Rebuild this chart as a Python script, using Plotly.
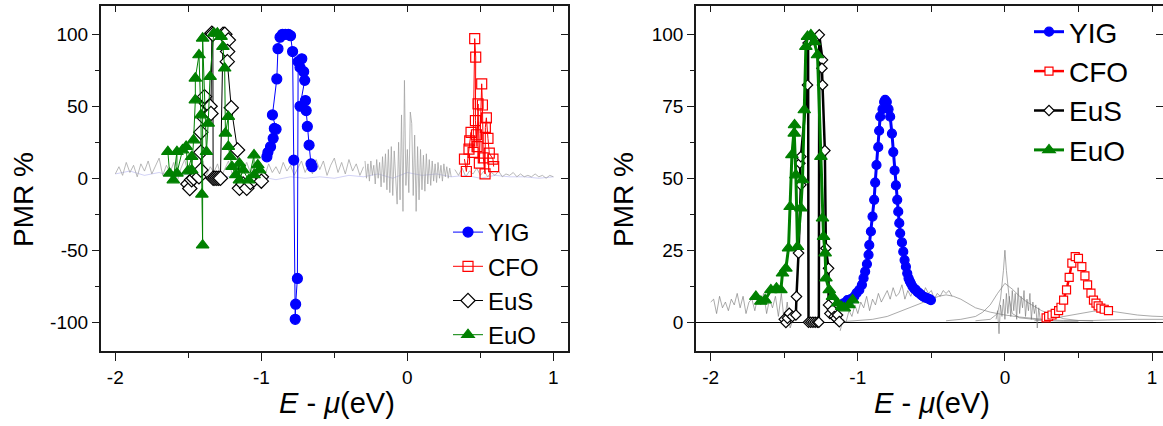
import plotly.graph_objects as go

# ---------------- LEFT PANEL DATA ----------------
yig_l_x = [-0.962, -0.955, -0.937, -0.919, -0.911, -0.899, -0.924, -0.894, -0.886, -0.872, -0.855, -0.835, -0.815, -0.800,
           -0.786, -0.778, -0.768, -0.765, -0.753, -0.748, -0.735, -0.723, -0.710, -0.703, -0.735, -0.698, -0.693, -0.685,
           -0.673, -0.660, -0.652]
yig_l_y = [14.9, 18.0, 21.9, 27.7, 34.6, 34.0, 44.0, 69.0, 90.0, 98.0, 100.0, 100.0, 100.0, 99.0,
           88.0, 12.6, -98.0, -87.5, -69.6, 81.0, 77.0, 83.0, 74.0, 68.0, 50.0, 54.0, 47.0, 36.0,
           23.0, 10.0, 8.0]

cfo_l_x = [0.391, 0.404, 0.422, 0.427, 0.436, 0.450, 0.461, 0.468, 0.466, 0.473, 0.477, 0.484, 0.493, 0.509, 0.514,
           0.520, 0.532, 0.534, 0.541, 0.552, 0.561, 0.586, 0.591]
cfo_l_y = [13.3, 4.7, 20.2, 26.0, 31.9, 18.0, 97.0, 84.2, 40.0, 30.2, 22.0, 51.6, 10.5, 65.6, 50.9,
           14.2, 3.0, 35.3, 42.0, 27.7, 17.4, 13.3, 8.1]

eus_l_x = [-1.503, -1.490, -1.477, -1.464, -1.440, -1.427, -1.414, -1.414, -1.414, -1.389, -1.376, -1.389, -1.351, -1.345,
           -1.339, -1.332, -1.330, -1.318, -1.305, -1.292, -1.280, -1.262, -1.250, -1.226, -1.231, -1.233, -1.206, -1.163,
           -1.150, -1.125, -1.100, -1.075, -1.050, -1.000, -1.000]
eus_l_y = [-4.0, -7.1, -1.0, 0.0, 2.0, 1.0, 5.7, 18.0, 32.0, 41.6, 52.0, 56.7, 50.0, 45.0,
           100.7, 100.0, 0.0, 0.0, 0.0, 0.0, 0.0, 100.0, 100.0, 96.0, 88.0, 81.0, 49.0, 19.6,
           -7.0, -4.0, -7.0, -3.0, -1.0, 1.0, -2.0]

euo_l_x = [-1.640, -1.628, -1.603, -1.578, -1.578, -1.540, -1.515, -1.503, -1.477, -1.477, -1.464, -1.452, -1.452,
           -1.427, -1.414, -1.407, -1.402, -1.402, -1.376, -1.364, -1.351, -1.326, -1.301, -1.276, -1.263, -1.251,
           -1.246, -1.226, -1.226, -1.213, -1.201, -1.175, -1.150, -1.150, -1.125, -1.087, -1.050, -1.050, -1.024, -1.012]
euo_l_y = [18.4, 3.4, -1.3, 18.4, 3.4, 19.6, 22.0, 5.0, 15.0, 5.7, 26.5, 54.3, 69.4,
           85.6, 43.9, -11.2, -46.5, 97.2, 18.4, 38.1, 70.6, 100.7, 100.7, 98.4, 91.4, 76.4,
           31.2, 42.8, 22.0, 15.0, 8.0, 2.3, 10.3, -1.3, 5.7, -1.3, 16.1, 2.3, 9.2, 5.7]

# background (gray) spectra, left panel
bg_l1_x = [-2.000, -1.975, -1.950, -1.925, -1.900, -1.875, -1.850, -1.825, -1.800, -1.775, -1.750, -1.725, -1.700,
           -1.675, -1.650, -1.625, -1.600, -1.575, -1.550, -1.525, -1.500, -1.475, -1.450, -1.425, -1.400, -1.375,
           -1.350, -1.325, -1.300, -1.275, -1.250, -1.225, -1.200, -1.175, -1.150, -1.125, -1.100, -1.075, -1.050,
           -1.025, -1.000, -0.975, -0.950, -0.925, -0.900, -0.875, -0.850, -0.825, -0.800, -0.775, -0.750, -0.725,
           -0.700, -0.675, -0.650, -0.625, -0.600, -0.575, -0.550, -0.525, -0.500, -0.475, -0.450, -0.425, -0.400,
           -0.375, -0.350, -0.325, -0.300]
bg_l1_y = [3, 8, 2, 11, 4, 9, 1, 10, 5, 12, 3, 8, 14, 2, 9, 4, 11, -2, 7, 13, 3, 9, -4, 6, 12, 2, 8, 4, 10, 1,
           7, 12, 3, 8, 0, 6, 11, 4, 9, -5, 7, 2, 10, 4, 8, 3, 11, 5, 9, 2, 7, 12, 4, 10, 3, 13, 6, 12, 2, 9,
           14, 4, 11, 3, 13, 5, 10, 2, 8]
bg_l2_x = [-0.29, -0.28, -0.27, -0.26, -0.25, -0.24, -0.23, -0.22, -0.21, -0.20, -0.19, -0.18, -0.17, -0.16, -0.15,
           -0.14, -0.13, -0.12, -0.11, -0.10, -0.09, -0.08, -0.07, -0.06, -0.05, -0.04, -0.03, -0.02, -0.01, 0.00,
           0.01, 0.02, 0.03, 0.04, 0.05, 0.06, 0.07, 0.08, 0.09, 0.10, 0.11, 0.12, 0.13, 0.14, 0.15, 0.16, 0.17,
           0.18, 0.19, 0.20, 0.21, 0.22, 0.23, 0.24, 0.25, 0.26, 0.27, 0.28, 0.29, 0.30]
bg_l2_y = [12, 0, 10, -2, 12, 2, 9, -4, 13, 0, 11, -6, 15, -3, 17, -8, 20, -10, 22, -12, 19, -5, -18, 25, -15,
           44, -23, 68, -5, 20, -10, 46, 38, -12, 30, -23, 22, -15, 20, -8, 16, -9, 17, -4, 13, -5, 12, -2, 10,
           -3, 11, 0, 9, -2, 10, 1, 8, 0, 7, 1]
bg_l3_x = [0.325, 0.350, 0.375, 0.400, 0.425, 0.450, 0.475, 0.500, 0.525, 0.550, 0.575, 0.600, 0.625, 0.650,
           0.675, 0.700, 0.725, 0.750, 0.775, 0.800, 0.825, 0.850, 0.875, 0.900, 0.925, 0.950, 0.975, 1.000]
bg_l3_y = [6, 2, 7, 1, 5, 3, 7, 2, 5, 1, 4, 2, 5, 1, 3, 2, 4, 1, 3, 1, 2, 1, 3, 1, 2, 0, 2, 1]
bg_l4_x = [-2.0, -1.9, -1.8, -1.7, -1.6, -1.5, -1.4, -1.3, -1.2, -1.1, -1.0, -0.9, -0.8, -0.7, -0.6, -0.5,
           -0.4, -0.3, -0.2, -0.1, 0.0, 0.1, 0.2, 0.3, 0.4, 0.5, 0.6, 0.7, 0.8, 0.9, 1.0]
bg_l4_y = [3, 5, 2, 4, 1, 3, 0, 2, 1, 0, 1, -1, 1, 0, 1, 0, 2, 1, 3, 0, 4, 2, 3, 1, 2, 0, 2, 1, 1, 0, 1]

# ---------------- RIGHT PANEL DATA ----------------
yig_r_x = [-1.100, -1.085, -1.070, -1.047, -1.024, -1.009, -0.990, -0.972, -0.961, -0.950, -0.938, -0.927, -0.922,
           -0.911, -0.900, -0.889, -0.882, -0.873, -0.861, -0.855, -0.848, -0.832, -0.821, -0.814, -0.803, -0.791,
           -0.780, -0.768, -0.759, -0.750, -0.741, -0.732, -0.725, -0.718, -0.712, -0.700, -0.691, -0.682, -0.673,
           -0.664, -0.655, -0.647, -0.639, -0.628, -0.617, -0.605, -0.594, -0.583, -0.571, -0.560, -0.548, -0.537,
           -0.526, -0.514, -0.503]
yig_r_y = [6.5, 6.8, 7.7, 8.0, 8.9, 10.1, 11.2, 13.0, 15.3, 17.6, 20.2, 23.4, 26.8,
           31.5, 36.7, 42.5, 48.5, 54.6, 60.8, 66.5, 71.4, 74.0, 76.5, 77.2, 76.5, 74.0,
           71.4, 65.5, 59.1, 52.7, 47.5, 42.5, 38.4, 34.4, 30.9, 27.7, 24.5, 21.6, 19.3,
           17.0, 15.3, 14.3, 13.5, 12.4, 11.7, 11.2, 10.5, 10.1, 9.6, 9.1, 8.7, 8.5,
           8.3, 8.0, 7.7]

cfo_r_x = [0.280, 0.297, 0.320, 0.342, 0.365, 0.381, 0.399, 0.419, 0.437, 0.455, 0.478, 0.500, 0.523, 0.544,
           0.562, 0.585, 0.602, 0.619, 0.634, 0.652, 0.675, 0.704]
cfo_r_y = [1.5, 2.0, 2.5, 3.1, 4.0, 5.2, 7.7, 11.2, 15.6, 20.5, 22.8, 22.2, 19.3, 16.1,
           13.0, 10.1, 7.7, 6.6, 5.7, 4.9, 4.5, 4.0]

eus_r_x = [-1.500, -1.489, -1.478, -1.466, -1.444, -1.421, -1.417, -1.403, -1.387, -1.394, -1.387, -1.342, -1.338,
           -1.335, -1.320, -1.305, -1.290, -1.275, -1.265, -1.262, -1.240, -1.244, -1.240, -1.224, -1.217, -1.199,
           -1.199, -1.190, -1.172, -1.160, -1.149, -1.138, -1.126]
eus_r_y = [1.0, -0.1, 1.4, 3.1, 2.0, 2.5, 8.9, 24.0, 47.7, 55.2, 57.5, 82.4, 97.0,
           0.0, 0.0, 0.0, 0.0, 0.0, 0.0, 99.8, 91.1, 88.2, 82.4, 59.6, 25.7, 18.7,
           6.0, 3.0, 4.3, 2.0, 1.4, 2.5, 0.2]

euo_r_x = [-1.693, -1.659, -1.630, -1.591, -1.553, -1.523, -1.512, -1.489, -1.471, -1.460, -1.448, -1.430, -1.432,
           -1.421, -1.410, -1.387, -1.376, -1.364, -1.353, -1.342, -1.319, -1.296, -1.274, -1.251, -1.240, -1.233,
           -1.222, -1.217, -1.194, -1.172, -1.138, -1.110, -1.092, -1.060, -1.035]
euo_r_y = [8.9, 7.2, 7.7, 11.2, 11.8, 11.2, 17.0, 18.7, 25.7, 40.1, 58.1, 68.5, 65.6,
           51.1, 26.2, 39.6, 49.4, 73.7, 95.7, 99.2, 99.8, 97.4, 92.8, 57.5, 36.1, 29.7,
           24.0, 15.3, 11.2, 8.9, 6.6, 5.4, 4.9, 6.0, 7.7]

bg_r1_x = [-2.00, -1.98, -1.96, -1.94, -1.92, -1.90, -1.88, -1.86, -1.84, -1.82, -1.80, -1.78, -1.76, -1.74, -1.72,
           -1.70, -1.68, -1.66, -1.64, -1.62, -1.60, -1.58, -1.56, -1.54, -1.52, -1.50, -1.48, -1.46, -1.44]
bg_r1_y = [7, 8, 3, 9, 5, 7, 4, 8, 6, 10, 5, 9, 3, 7, 8, 4, 9, 6, 10, 3, 8, 5, 9, 2, 10, 0, 7, -2, 1]
bg_r2_x = [-1.12, -1.10, -1.08, -1.06, -1.04, -1.02, -1.00, -0.98, -0.96, -0.94, -0.92, -0.90, -0.88, -0.86, -0.84,
           -0.82, -0.80, -0.78, -0.76, -0.74, -0.72, -0.70, -0.68, -0.66, -0.64, -0.62, -0.60, -0.58, -0.56, -0.54,
           -0.52, -0.50, -0.48, -0.46, -0.44, -0.42, -0.40, -0.38, -0.36]
bg_r2_y = [-3, 1, 0, 4, 2, 6, 3, 7, 5, 9, 4, 8, 6, 10, 7, 9, 11, 8, 12, 9, 10, 13, 8, 11, 9, 12, 10, 11, 9, 12,
           10, 11, 8, 10, 9, 11, 10, 11, 9]
bg_r3_x = [-1.10, -1.00, -0.90, -0.80, -0.70, -0.60, -0.50, -0.45, -0.40, -0.35, -0.30, -0.25, -0.20, -0.10, 0.00,
           0.10, 0.20, 0.30, 0.40, 0.50, 0.60, 0.70, 0.80, 0.90, 1.00, 1.10]
bg_r3_y = [0.2, 0.5, 1, 2, 4, 6, 8, 9, 9.5, 9, 8, 6.5, 5, 3.5, 2.5, 1.8, 1.2, 0.8, 0.6, 0.5, 0.6, 0.8, 1, 1, 1, 1]
bg_r4_x = [-0.20, -0.10, -0.05, -0.03, -0.01, 0.00, 0.01, 0.03, 0.05, 0.10, 0.20, 0.30, 0.40, 0.50]
bg_r4_y = [0.5, 1, 3, 8, 18, 25, 18, 8, 3, 1.5, 1, 0.5, 0.3, 0.3]
bg_r5_x = [-0.40, -0.30, -0.20, -0.15, -0.10, -0.05, 0.00, 0.05, 0.10, 0.15, 0.20, 0.25, 0.30, 0.35, 0.40, 0.50, 0.60]
bg_r5_y = [0.5, 1, 2, 3.5, 6, 10, 13.5, 11.5, 9, 7, 5.5, 4, 3, 2, 1.2, 0.6, 0.4]
bg_r6_x = [-0.06, -0.05, -0.04, -0.03, -0.02, -0.01, 0.00, 0.01, 0.02, 0.03, 0.04, 0.05, 0.06, 0.07, 0.08, 0.09,
           0.10, 0.11, 0.12, 0.13, 0.14, 0.15, 0.16, 0.17, 0.18, 0.19, 0.20, 0.21, 0.22, 0.23, 0.24]
bg_r6_y = [1, 4, -4, 6, 2, 8, 1, 10, 3, 9, 2, 11, 4, 10, 1, 12, 3, 9, 5, 11, 2, 8, 4, 10, 1, 7, 3, 6, -2, 5, 1]
bg_r7_x = [0.20, 0.30, 0.40, 0.50, 0.60, 0.70, 0.80, 0.90, 1.00, 1.10]
bg_r7_y = [0.5, 1, 2, 3, 3.8, 4, 3.2, 2.5, 2.1, 1.9]

# ---------------- STYLE ----------------
FONT = "Arial, Liberation Sans, sans-serif"
BLUE, RED, BLACK, GREEN = "#0000FF", "#FF0000", "#000000", "#008000"
GRAY_L = "rgba(160,160,160,0.75)"
GRAY_R = "rgba(120,120,120,0.7)"

fig = go.Figure()

def bg(x, y, xa, ya, color, w=1.0):
    fig.add_trace(go.Scatter(x=x, y=y, xaxis=xa, yaxis=ya, mode="lines",
                             line=dict(color=color, width=w), showlegend=False, hoverinfo="skip"))

# left background
bg(bg_l4_x, bg_l4_y, "x", "y", "rgba(140,140,230,0.5)", 0.8)
bg(bg_l1_x, bg_l1_y, "x", "y", GRAY_L)
bg(bg_l2_x, bg_l2_y, "x", "y", GRAY_L)
bg(bg_l3_x, bg_l3_y, "x", "y", GRAY_L)

# right background
for bx, by in [(bg_r1_x, bg_r1_y), (bg_r2_x, bg_r2_y), (bg_r3_x, bg_r3_y), (bg_r4_x, bg_r4_y),
               (bg_r5_x, bg_r5_y), (bg_r6_x, bg_r6_y), (bg_r7_x, bg_r7_y)]:
    bg(bx, by, "x2", "y2", GRAY_R, 0.9)

def series(x, y, xa, ya, name, color, symbol, fill, size, lw, legend):
    fig.add_trace(go.Scatter(
        x=x, y=y, xaxis=xa, yaxis=ya, name=name, mode="lines+markers", legend=legend,
        line=dict(color=color, width=lw),
        marker=dict(symbol=symbol, size=size, color=fill, line=dict(color=color, width=1.2))))

series(yig_l_x, yig_l_y, "x", "y", "YIG", BLUE, "circle", BLUE, 10, 1, "legend")
series(cfo_l_x, cfo_l_y, "x", "y", "CFO", RED, "square-open", RED, 10, 1, "legend")
series(eus_l_x, eus_l_y, "x", "y", "EuS", BLACK, "diamond", "white", 11, 1, "legend")
series(euo_l_x, euo_l_y, "x", "y", "EuO", GREEN, "triangle-up", GREEN, 11, 1, "legend")

series(yig_r_x, yig_r_y, "x2", "y2", "YIG", BLUE, "circle", BLUE, 9, 3, "legend2")
series(cfo_r_x, cfo_r_y, "x2", "y2", "CFO", RED, "square", "white", 8, 2.5, "legend2")
series(eus_r_x, eus_r_y, "x2", "y2", "EuS", BLACK, "diamond", "white", 8, 2.5, "legend2")
series(euo_r_x, euo_r_y, "x2", "y2", "EuO", GREEN, "triangle-up", GREEN, 11, 3, "legend2")

# empty traces so overlay axes are drawn
for xa, ya in [("x3", "y"), ("x", "y3"), ("x4", "y2"), ("x2", "y4")]:
    fig.add_trace(go.Scatter(x=[], y=[], xaxis=xa, yaxis=ya, showlegend=False, hoverinfo="skip"))

W, H = 1163, 426
L_DOM = [100.7 / W, 568.0 / W]
R_DOM = [696.0 / W, 1.0]
Y_DOM = [1 - 351.0 / H, 1 - 5.5 / H]
XR_L = [-2.1, 1.1]
XR_R = [-2.1, -2.1 + (W - 696.0) / 147.1]

tickfont = dict(family=FONT, size=19, color="black")
LINEC = "#1a1a1a"
xticks = dict(tickmode="array", tickvals=[-2, -1, 0, 1], ticktext=["-2", "-1", "0", "1"])

common_x = dict(showgrid=False, zeroline=False, showline=True, linecolor=LINEC, linewidth=1.6,
                ticks="outside", ticklen=8, tickwidth=1.3, tickcolor=LINEC, tickfont=tickfont,
                minor=dict(ticks="outside", ticklen=5, tickwidth=1.3, tickcolor=LINEC, dtick=0.5, tick0=0, showgrid=False),
                **xticks)

fig.update_layout(
    width=W, height=H, margin=dict(l=0, r=0, t=0, b=0),
    paper_bgcolor="white", plot_bgcolor="rgba(0,0,0,0)",
    font=dict(family=FONT, color="black"),
    xaxis=dict(domain=L_DOM, range=XR_L, anchor="y", **common_x),
    yaxis=dict(domain=Y_DOM, range=[-120, 120], anchor="x", showgrid=False, zeroline=False, showline=True,
               linecolor=LINEC, linewidth=1.6, ticks="outside", ticklen=7, tickwidth=1.3, tickcolor=LINEC,
               tickfont=tickfont, tickmode="array", tickvals=[-100, -50, 0, 50, 100],
               ticktext=["-100", "-50", "0", "50", "100"],
               minor=dict(ticks="outside", ticklen=4, tickwidth=1.3, tickcolor=LINEC, dtick=25, tick0=0, showgrid=False)),
    xaxis3=dict(overlaying="x", side="top", anchor="y", range=XR_L, showgrid=False, zeroline=False,
                showline=True, linecolor=LINEC, linewidth=1.6, ticks="inside", ticklen=7, tickwidth=1.3,
                tickcolor=LINEC, showticklabels=False, tickmode="linear", tick0=0, dtick=0.5),
    yaxis3=dict(overlaying="y", side="right", anchor="x", range=[-120, 120], showgrid=False, zeroline=False,
                showline=True, linecolor=LINEC, linewidth=1.6, ticks="inside", ticklen=7, tickwidth=1.3,
                tickcolor=LINEC, showticklabels=False, tickmode="linear", tick0=0, dtick=25),
    xaxis2=dict(domain=R_DOM, range=XR_R, anchor="y2", **common_x),
    yaxis2=dict(domain=Y_DOM, range=[-10, 110], anchor="x2", showgrid=False, showline=True,
                zeroline=True, zerolinecolor="black", zerolinewidth=1.2,
                linecolor=LINEC, linewidth=1.6, ticks="outside", ticklen=7, tickwidth=1.3, tickcolor=LINEC,
                tickfont=tickfont, tickmode="array", tickvals=[0, 25, 50, 75, 100],
                ticktext=["0", "25", "50", "75", "100"],
                minor=dict(ticks="outside", ticklen=4, tickwidth=1.3, tickcolor=LINEC, dtick=12.5, tick0=0, showgrid=False)),
    xaxis4=dict(overlaying="x2", side="top", anchor="y2", range=XR_R, showgrid=False, zeroline=False,
                showline=True, linecolor=LINEC, linewidth=1.6, ticks="inside", ticklen=7, tickwidth=1.3,
                tickcolor=LINEC, showticklabels=False, tickmode="linear", tick0=0, dtick=0.5),
    yaxis4=dict(overlaying="y2", side="right", anchor="x2", range=[-10, 110], showgrid=False, zeroline=False,
                showline=False, ticks="inside", ticklen=7, tickwidth=1.3,
                tickcolor=LINEC, showticklabels=False, tickmode="linear", tick0=0, dtick=25),
    legend=dict(x=448 / W, y=1 - 210 / H, xanchor="left", yanchor="top", bgcolor="rgba(0,0,0,0)",
                font=dict(family=FONT, size=24, color="black"), tracegroupgap=0, itemwidth=30),
    legend2=dict(x=1029 / W, y=1 - 7 / H, xanchor="left", yanchor="top", bgcolor="rgba(0,0,0,0)",
                 font=dict(family=FONT, size=28, color="black"), tracegroupgap=0, itemwidth=30),
)

title_font = dict(family=FONT, size=28, color="black")
xtitle_font = dict(family=FONT, size=29, color="black")
fig.add_annotation(text="PMR %", x=23 / W, y=1 - 200 / H, xref="paper", yref="paper",
                   textangle=-90, showarrow=False, font=title_font, xanchor="center", yanchor="middle")
fig.add_annotation(text="PMR %", x=623 / W, y=1 - 200 / H, xref="paper", yref="paper",
                   textangle=-90, showarrow=False, font=title_font, xanchor="center", yanchor="middle")
fig.add_annotation(text="<i>E</i> - <i>μ</i>(eV)", x=337 / W, y=1 - 403 / H, xref="paper", yref="paper",
                   showarrow=False, font=xtitle_font, xanchor="center", yanchor="middle")
fig.add_annotation(text="<i>E</i> - <i>μ</i>(eV)", x=932 / W, y=1 - 403 / H, xref="paper", yref="paper",
                   showarrow=False, font=xtitle_font, xanchor="center", yanchor="middle")

fig.write_html("out.html")
